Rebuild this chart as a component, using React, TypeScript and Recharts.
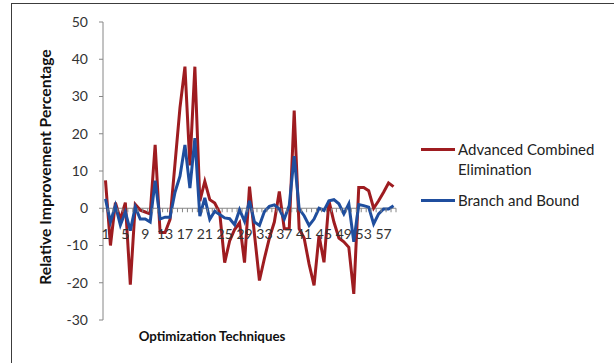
import React from 'react';
import { LineChart, Line, XAxis, YAxis, ReferenceLine } from 'recharts';

const categories = Array.from({ length: 59 }, (_, i) => i + 1);

const advancedCombined = [
  7.5, -10, 1.5, -3, 1.5, -20.5, 1, -0.5, -1, -1.5,
  17, -6.5, -6.5, -3, 12, 27, 38, 11.5, 38, 1.9,
  7.2, 2.3, 1.4, -1.2, -14.6, -8.8, -5.7, -3.9, -14.6, 5.8,
  -7, -19.4, -13.5, -8, -3.7, 4.5, -5.5, -5.5, 26.2, -5.5,
  -8, -15, -20.7, -7.3, -14.5, 2, -3.7, -8, -9, -10.5,
  -23, 5.6, 5.6, 4.7, 0, 2, 4.3, 6.8, 5.8,
];

const branchAndBound = [
  2.5, -3.7, 0.7, -4.5, -1, -6, 0.3, -2.9, -2.9, -3.7,
  7.4, -2.9, -2.4, -2.4, 4.3, 8.6, 17, 5.4, 18.8, -2.1,
  2.8, -3, -0.8, -1.7, -2.6, -2.8, -4.4, -0.4, -3.5, 2,
  -3.7, -4.6, -0.9, 0.5, 0.9, -0.2, -2.9, 0.7, 14, -0.2,
  -2, -4.6, -2.9, 0, -0.6, 2, 2.3, 1.2, -1.5, 1.2,
  -9, 1, 0.7, 0.3, -4.2, -1.5, -0.2, -0.2, 0.7,
];

const yTicks = [-30, -20, -10, 0, 10, 20, 30, 40, 50];

const data = categories.map((c, i) => ({
  cat: c,
  ace: advancedCombined[i],
  bb: branchAndBound[i],
}));

const FONT = 'Lato, "Open Sans", sans-serif';
const RED = '#9E1C20';
const BLUE = '#1F4E9E';

const W = 614;
const H = 363;
const M = { top: 22, right: 218, bottom: 23, left: 40 };
const Y_AXIS_W = 63;
const X_AXIS_H = 20;
const PLOT_H = H - M.top - M.bottom - X_AXIS_H;
const PLOT_W = W - M.left - Y_AXIS_W - M.right;
const ZERO_Y = M.top + PLOT_H * (50 / 80);

const XTick = (props: any) => {
  const { x, payload, index } = props;
  const bw = PLOT_W / categories.length;
  const showLabel = (payload.value - 1) % 4 === 0;
  return (
    <g>
      <line x1={x - bw / 2} x2={x - bw / 2} y1={ZERO_Y} y2={ZERO_Y + 4} stroke="#868686" />
      {index === categories.length - 1 && (
        <line x1={x + bw / 2} x2={x + bw / 2} y1={ZERO_Y} y2={ZERO_Y + 4} stroke="#868686" />
      )}
      {showLabel && (
        <text x={x} y={ZERO_Y + 31} textAnchor="middle" fontSize={14} fill="#333" fontFamily={FONT}>
          {payload.value}
        </text>
      )}
    </g>
  );
};

// legend kept outside the chart so it doesn't eat plot space
const LegendBox = () => (
  <div style={{ position: 'absolute', left: 421, top: 139, width: 190, fontFamily: FONT, fontSize: 15, color: '#222', lineHeight: '20px' }}>
    <div style={{ display: 'flex', alignItems: 'flex-start' }}>
      <span style={{ width: 34, height: 3, background: RED, marginTop: 9, flexShrink: 0 }} />
      <span style={{ marginLeft: 3 }}>Advanced Combined<br />Elimination</span>
    </div>
    <div style={{ display: 'flex', alignItems: 'flex-start', marginTop: 11 }}>
      <span style={{ width: 34, height: 3, background: BLUE, marginTop: 9, flexShrink: 0 }} />
      <span style={{ marginLeft: 3 }}>Branch and Bound</span>
    </div>
  </div>
);

export default function App() {
  return (
    <div style={{ position: 'absolute', left: 0, top: 0, width: W, height: H, background: '#fff', overflow: 'hidden' }}>
      <div style={{ position: 'absolute', left: 11, top: 3, width: 700, height: 400, borderLeft: '1.5px solid #3c3c3c', borderTop: '1.5px solid #3c3c3c' }} />
      <LineChart width={W} height={H} data={data} margin={M}>
        <XAxis
          dataKey="cat"
          scale="band"
          interval={0}
          height={X_AXIS_H}
          axisLine={false}
          tickLine={false}
          tick={<XTick />}
          label={{
            content: () => (
              <text x={212} y={341} textAnchor="middle" fontSize={13.3} fontWeight="bold" fill="#111" fontFamily={FONT}>
                Optimization Techniques
              </text>
            ),
          }}
        />
        <YAxis
          domain={[-30, 50]}
          ticks={yTicks}
          width={Y_AXIS_W}
          axisLine={{ stroke: '#868686' }}
          tickLine={{ stroke: '#868686' }}
          tickSize={4}
          tickMargin={11}
          tick={{ fontSize: 14, fill: '#333', fontFamily: FONT }}
          label={{
            content: () => (
              <text x={51} y={167} transform="rotate(-90 51 167)" textAnchor="middle" fontSize={15.7} fontWeight="bold" fill="#111" fontFamily={FONT}>
                Relative Improvement Percentage
              </text>
            ),
          }}
        />
        <ReferenceLine y={0} stroke="#868686" />
        <Line type="linear" dataKey="ace" name="Advanced Combined Elimination" stroke={RED} strokeWidth={3} dot={false} isAnimationActive={false} />
        <Line type="linear" dataKey="bb" name="Branch and Bound" stroke={BLUE} strokeWidth={3} dot={false} isAnimationActive={false} />
      </LineChart>
      <LegendBox />
    </div>
  );
}
